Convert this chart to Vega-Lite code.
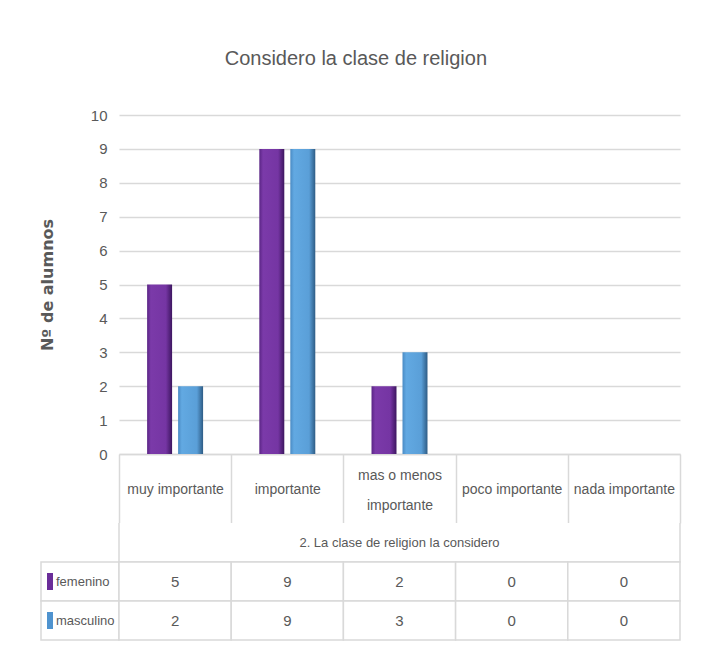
{
  "$schema": "https://vega.github.io/schema/vega-lite/v6.json",
  "background": "white",
  "padding": {"left": 39, "top": 49, "right": 5, "bottom": 5},
  "title": {"text": "Considero la clase de religion", "font": "Liberation Sans", "fontSize": 20, "fontWeight": "normal", "color": "#595959", "anchor": "middle", "dx": -4, "offset": 39},
  "datasets": {
    "datos": [
      {"categoria": "muy importante", "sexo": "femenino", "alumnos": 5},
      {"categoria": "muy importante", "sexo": "masculino", "alumnos": 2},
      {"categoria": "importante", "sexo": "femenino", "alumnos": 9},
      {"categoria": "importante", "sexo": "masculino", "alumnos": 9},
      {"categoria": "mas o menos importante", "sexo": "femenino", "alumnos": 2},
      {"categoria": "mas o menos importante", "sexo": "masculino", "alumnos": 3},
      {"categoria": "poco importante", "sexo": "femenino", "alumnos": 0},
      {"categoria": "poco importante", "sexo": "masculino", "alumnos": 0},
      {"categoria": "nada importante", "sexo": "femenino", "alumnos": 0},
      {"categoria": "nada importante", "sexo": "masculino", "alumnos": 0}
    ],
    "series": [{"sexo": "femenino"}, {"sexo": "masculino"}],
    "titulo": [{"sexo": "2. La clase de religion la considero"}],
    "vacio": []
  },
  "columns": 2,
  "bounds": "flush",
  "spacing": {"row": 69, "column": 0},
  "concat": [
    {
      "width": 78,
      "height": 339,
      "data": {"name": "vacio"},
      "mark": {"type": "point", "opacity": 0},
      "encoding": {}
    },
    {
      "width": 561,
      "height": 339,
      "data": {"name": "datos"},
      "encoding": {
        "x": {
          "field": "categoria", "type": "nominal", "sort": null,
          "scale": {"domain": ["muy importante", "importante", "mas o menos importante", "poco importante", "nada importante"], "paddingInner": 0, "paddingOuter": 0},
          "axis": {
            "title": null, "orient": "bottom",
            "domain": true, "domainColor": "#d9d9d9", "domainWidth": 1.5,
            "ticks": true, "tickBand": "extent", "tickSize": 69, "tickColor": "#d9d9d9", "tickWidth": 1.5,
            "labelAngle": 0, "labelBaseline": "middle",
            "labelPadding": {"condition": {"test": "datum.value == 'mas o menos importante'", "value": -48}, "value": -34},
            "labelFont": "Liberation Sans", "labelFontSize": 14, "labelColor": "#595959", "labelLineHeight": 30,
            "labelExpr": "datum.value == 'mas o menos importante' ? ['mas o menos', 'importante'] : datum.label"
          }
        },
        "xOffset": {"field": "sexo", "type": "nominal", "scale": {"domain": ["femenino", "masculino"], "paddingInner": 0.194, "paddingOuter": 0.907}},
        "y": {
          "field": "alumnos", "type": "quantitative",
          "scale": {"domain": [0, 10], "nice": false},
          "axis": {
            "values": [0, 1, 2, 3, 4, 5, 6, 7, 8, 9, 10],
            "title": "Nº de alumnos", "titleFont": "DejaVu Sans", "titleFontSize": 16, "titleFontWeight": "bold", "titleColor": "#595959", "titlePadding": 38,
            "grid": true, "gridColor": "#d9d9d9", "gridWidth": 1.5,
            "domain": false, "ticks": false,
            "labelPadding": 12, "labelFont": "Liberation Sans", "labelFontSize": 15, "labelColor": "#595959",
            "minExtent": 26, "maxExtent": 26
          }
        }
      },
      "layer": [
        {
          "transform": [{"filter": "datum.sexo == 'femenino'"}],
          "mark": {"type": "bar", "fill": {"gradient": "linear", "x1": 0, "y1": 0, "x2": 1, "y2": 0, "stops": [{"offset": 0, "color": "#5a2585"}, {"offset": 0.15, "color": "#7b3aa9"}, {"offset": 0.75, "color": "#7535a3"}, {"offset": 1, "color": "#3d1660"}]}}
        },
        {
          "transform": [{"filter": "datum.sexo == 'masculino'"}],
          "mark": {"type": "bar", "fill": {"gradient": "linear", "x1": 0, "y1": 0, "x2": 1, "y2": 0, "stops": [{"offset": 0, "color": "#4a8bc4"}, {"offset": 0.15, "color": "#62a9e2"}, {"offset": 0.75, "color": "#5a9fd8"}, {"offset": 1, "color": "#2e5c85"}]}}
        }
      ]
    },
    {
      "width": 78,
      "height": 117,
      "data": {"name": "series"},
      "encoding": {
        "y": {"field": "sexo", "type": "nominal", "sort": null, "scale": {"domain": ["2. La clase de religion la considero", "femenino", "masculino"], "paddingInner": 0, "paddingOuter": 0}, "axis": null}
      },
      "layer": [
        {"mark": {"type": "rect", "fill": "white", "stroke": "#d9d9d9", "strokeWidth": 1.5}},
        {
          "mark": {"type": "point", "shape": "M-0.35,-1H0.35V1H-0.35Z", "filled": true, "size": 289, "xOffset": -30, "opacity": 1},
          "encoding": {"color": {"field": "sexo", "type": "nominal", "scale": {"domain": ["femenino", "masculino"], "range": ["#6a2d99", "#4f93cf"]}, "legend": null}}
        },
        {
          "mark": {"type": "text", "align": "left", "dx": -24, "font": "Liberation Sans", "fontSize": 13, "color": "#595959"},
          "encoding": {"text": {"field": "sexo"}}
        }
      ]
    },
    {
      "width": 561,
      "height": 117,
      "layer": [
        {
          "data": {"name": "titulo"},
          "mark": {"type": "rect", "fill": "white", "stroke": "#d9d9d9", "strokeWidth": 1.5, "strokeDash": [0, 561, 639, 0]},
          "encoding": {
            "y": {"field": "sexo", "type": "nominal", "sort": null, "scale": {"domain": ["2. La clase de religion la considero", "femenino", "masculino"], "paddingInner": 0, "paddingOuter": 0}, "axis": null}
          }
        },
        {
          "data": {"name": "titulo"},
          "mark": {"type": "text", "font": "Liberation Sans", "fontSize": 13, "color": "#595959"},
          "encoding": {
            "y": {"field": "sexo", "type": "nominal", "sort": null, "scale": {"domain": ["2. La clase de religion la considero", "femenino", "masculino"], "paddingInner": 0, "paddingOuter": 0}, "axis": null},
            "text": {"field": "sexo"}
          }
        },
        {
          "data": {"name": "datos"},
          "mark": {"type": "rect", "fill": "white", "stroke": "#d9d9d9", "strokeWidth": 1.5},
          "encoding": {
            "x": {"field": "categoria", "type": "nominal", "sort": null, "scale": {"domain": ["muy importante", "importante", "mas o menos importante", "poco importante", "nada importante"], "paddingInner": 0, "paddingOuter": 0}, "axis": null},
            "y": {"field": "sexo", "type": "nominal", "sort": null, "scale": {"domain": ["2. La clase de religion la considero", "femenino", "masculino"], "paddingInner": 0, "paddingOuter": 0}, "axis": null}
          }
        },
        {
          "data": {"name": "datos"},
          "mark": {"type": "text", "font": "Liberation Sans", "fontSize": 15, "color": "#595959"},
          "encoding": {
            "x": {"field": "categoria", "type": "nominal", "sort": null, "scale": {"domain": ["muy importante", "importante", "mas o menos importante", "poco importante", "nada importante"], "paddingInner": 0, "paddingOuter": 0}, "axis": null},
            "y": {"field": "sexo", "type": "nominal", "sort": null, "scale": {"domain": ["2. La clase de religion la considero", "femenino", "masculino"], "paddingInner": 0, "paddingOuter": 0}, "axis": null},
            "text": {"field": "alumnos", "type": "quantitative"}
          }
        }
      ]
    }
  ],
  "config": {
    "view": {"stroke": null},
    "font": "Liberation Sans"
  }
}
